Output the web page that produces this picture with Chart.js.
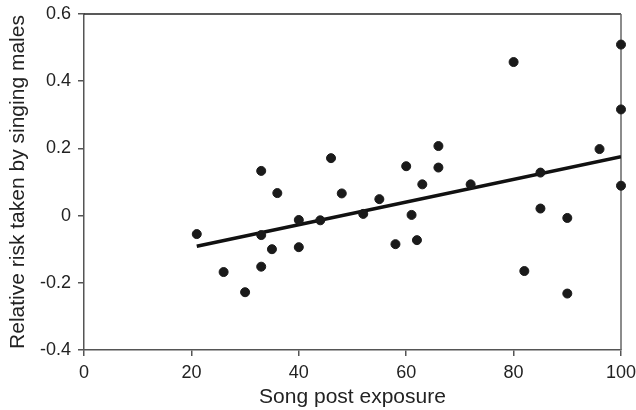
<!DOCTYPE html>
<html>
<head>
<meta charset="utf-8">
<script src="https://cdn.jsdelivr.net/npm/chart.js@4.4.1/dist/chart.umd.min.js"></script>
<style>
  body { margin: 0; background: #fff; }
  #wrap { width: 636px; height: 410px; }
</style>
</head>
<body>
<div id="wrap"><canvas id="riskChart"></canvas></div>
<script>
// Song post exposure (%) for each male
const exposure = [21, 26, 30, 33, 33, 33, 35, 36, 40, 40, 44, 46, 48, 52, 55, 58, 60, 61, 62, 63,
  66, 66, 72, 80, 82, 85, 85, 90, 90, 96, 100, 100, 100];
// Relative risk taken by singing males
const risk = [-0.055, -0.168, -0.228, 0.133, -0.058, -0.152, -0.1, 0.067, -0.013, -0.094, -0.014, 0.171,
  0.066, 0.005, 0.049, -0.085, 0.147, 0.002, -0.073, 0.093, 0.207, 0.143, 0.093, 0.457, -0.165, 0.128,
  0.021, -0.007, -0.232, 0.198, 0.509, 0.316, 0.089];
// regression line end points
const fitX = [21, 100];
const fitY = [-0.091, 0.175];

const xTicks = [0, 20, 40, 60, 80, 100];
const yTicks = [-0.4, -0.2, 0, 0.2, 0.4, 0.6];

const points = exposure.map((x, i) => ({ x: x, y: risk[i] }));
const fitLine = fitX.map((x, i) => ({ x: x, y: fitY[i] }));

// draws the top and right sides of the box
const frameBox = {
  id: 'frameBox',
  beforeDatasetsDraw(chart) {
    const { ctx, chartArea: a } = chart;
    ctx.save();
    ctx.lineWidth = 1.5;
    ctx.strokeStyle = '#222';
    ctx.beginPath();
    ctx.moveTo(a.left, a.top);
    ctx.lineTo(a.right, a.top);
    ctx.stroke();
    ctx.strokeStyle = '#666';
    ctx.beginPath();
    ctx.moveTo(a.right, a.top);
    ctx.lineTo(a.right, a.bottom);
    ctx.stroke();
    ctx.restore();
  }
};

const ctx = document.getElementById('riskChart').getContext('2d');
const chart = new Chart(ctx, {
  type: 'scatter',
  data: {
    datasets: [
      {
        data: points,
        backgroundColor: '#1a1a1a',
        borderColor: '#1a1a1a',
        pointRadius: 4.5,
        pointHoverRadius: 4.5,
        clip: false
      },
      {
        type: 'line',
        data: fitLine,
        borderColor: '#111',
        borderWidth: 3.5,
        pointRadius: 0,
        fill: false
      }
    ]
  },
  options: {
    responsive: true,
    maintainAspectRatio: false,
    animation: false,
    layout: { padding: { top: 14, right: 15, left: 0, bottom: 0 } },
    plugins: { legend: { display: false }, tooltip: { enabled: false } },
    scales: {
      x: {
        type: 'linear',
        min: 0,
        max: 100,
        afterBuildTicks: (scale) => { scale.ticks = xTicks.map(v => ({ value: v })); },
        afterFit: (scale) => { scale.height = 60; scale.paddingLeft = 0; scale.paddingRight = 0; },
        grid: { drawOnChartArea: false, drawTicks: true, tickLength: 6, color: '#555', lineWidth: 1.5 },
        border: { display: true, color: '#555', width: 1.5 },
        ticks: { color: '#222', padding: 6, font: { family: 'Liberation Sans, Arial', size: 18 } },
        title: {
          display: true,
          text: 'Song post exposure',
          color: '#222',
          padding: { top: 0, bottom: 0 },
          font: { family: 'Liberation Sans, Arial', size: 21 }
        }
      },
      y: {
        type: 'linear',
        min: -0.4,
        max: 0.6,
        afterBuildTicks: (scale) => { scale.ticks = yTicks.map(v => ({ value: v })); },
        afterFit: (scale) => { scale.width = 84; scale.paddingTop = 0; scale.paddingBottom = 0; },
        grid: { drawOnChartArea: false, drawTicks: true, tickLength: 6, color: '#555', lineWidth: 1.5 },
        border: { display: true, color: '#555', width: 1.5 },
        ticks: {
          color: '#222',
          padding: 7,
          font: { family: 'Liberation Sans, Arial', size: 18 },
          callback: (v) => String(Number(v.toFixed(1)))
        },
        title: {
          display: true,
          text: 'Relative risk taken by singing males',
          color: '#222',
          padding: { top: 6, bottom: 0 },
          font: { family: 'Liberation Sans, Arial', size: 21 }
        }
      }
    }
  },
  plugins: [frameBox]
});
</script>
</body>
</html>
